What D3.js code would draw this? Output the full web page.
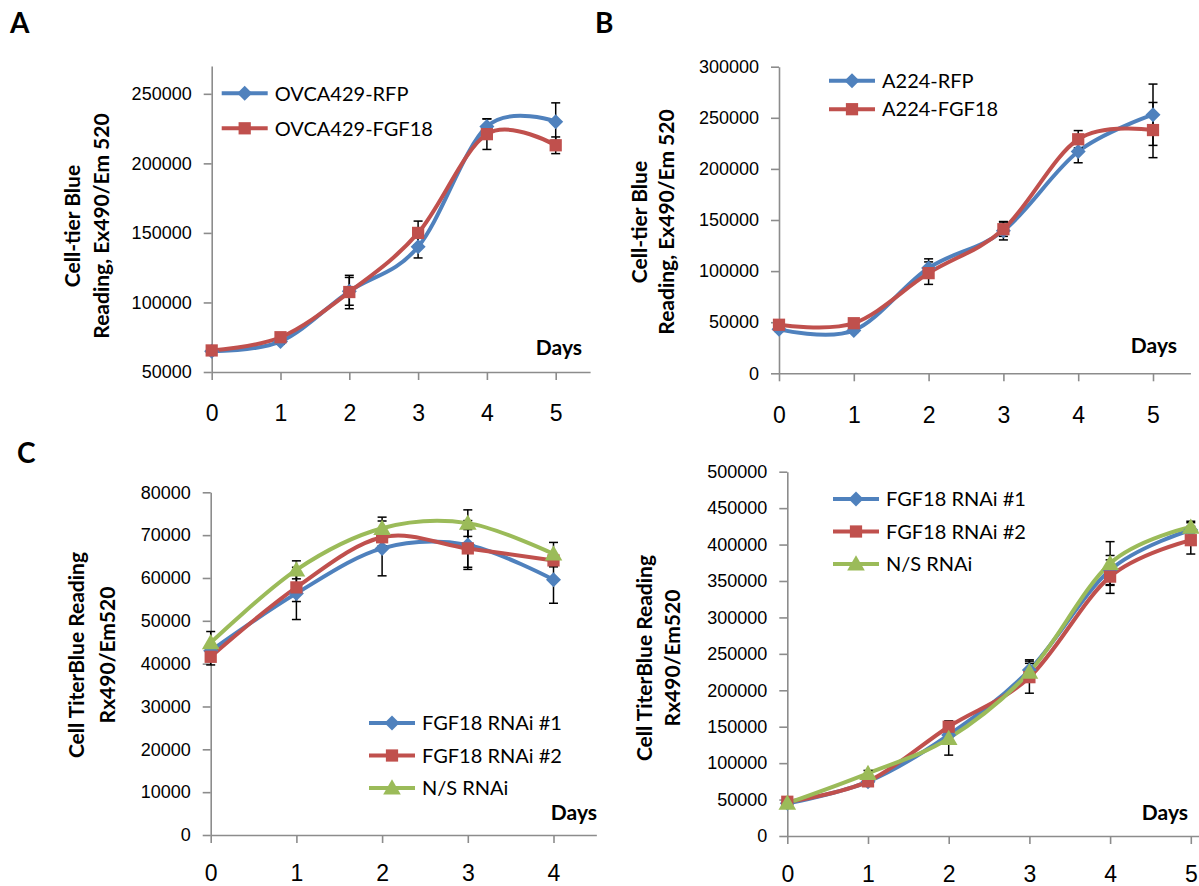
<!DOCTYPE html>
<html>
<head>
<meta charset="utf-8">
<script src="https://cdn.jsdelivr.net/npm/d3@7"></script>
<style>
  body { margin: 0; background: #fff; }
  svg { display: block; font-family: Lato, "Open Sans", sans-serif; }
</style>
</head>
<body>
<div id="chart"></div>
<script>
// ---- data ----
let daysAB = [0, 1, 2, 3, 4, 5];
let daysC1 = [0, 1, 2, 3, 4];
let daysC2 = [0, 1, 2, 3, 4, 5];

// panel A (OVCA429)
let ovcaRFP = [65000, 72000, 108000, 140000, 226500, 230000];
let ovcaRFPErr = [1500, 2000, 10000, 8000, 5500, 13500];
let ovcaFGF18 = [65500, 75000, 107500, 150000, 221000, 213000];
let ovcaFGF18Err = [1500, 2000, 12000, 8500, 11000, 6000];
let ticksA = [50000, 100000, 150000, 200000, 250000];

// panel B (A224)
let a224RFP = [43000, 42000, 103000, 139500, 217000, 253000];
let a224RFPErr = [2000, 2000, 9000, 9000, 11000, 30000];
let a224FGF18 = [47500, 49000, 98000, 141000, 229000, 238000];
let a224FGF18Err = [2000, 2000, 11000, 7000, 8500, 27000];
let ticksB = [0, 50000, 100000, 150000, 200000, 250000, 300000];

// panel C left
let c1Sh1 = [43000, 56400, 66900, 67700, 59600];
let c1Sh1Err = [1500, 6100, 6400, 5700, 5500];
let c1Sh2 = [41600, 57800, 69500, 66900, 64100];
let c1Sh2Err = [1900, 3300, 2000, 4400, 1500];
let c1NS = [44900, 61900, 71600, 72800, 65600];
let c1NSErr = [2600, 2100, 2600, 3100, 2700];
let ticksC1 = [0, 10000, 20000, 30000, 40000, 50000, 60000, 70000, 80000];

// panel C right
let c2Sh1 = [45000, 74600, 138600, 227800, 365000, 420000];
let c2Sh1Err = [3000, 5000, 10000, 14000, 20000, 10000];
let c2Sh2 = [47000, 75000, 150000, 218000, 356000, 406000];
let c2Sh2Err = [3000, 4000, 8000, 22000, 23000, 19000];
let c2NS = [45000, 86000, 134000, 225000, 374000, 424000];
let c2NSErr = [3000, 4000, 23000, 12000, 30000, 8000];
let ticksC2 = [0, 50000, 100000, 150000, 200000, 250000, 300000, 350000, 400000, 450000, 500000];

// Excel 2007 palette
let blue = '#4F81BD';
let red = '#C0504D';
let green = '#9BBB59';

let width = 1199;
let height = 886;

let svg = d3.select('#chart')
    .append('svg')
    .attr('width', width)
    .attr('height', height);

svg.append('rect')
    .attr('width', width)
    .attr('height', height)
    .attr('fill', '#fff');

// panel layouts (positions only), series built from the arrays above
let panels = [
    {
        letter: 'A', letterXY: [10, 33],
        x0: 211.7, step: 68.8, xMax: 5.5, days: daysAB,
        yTop: 66, yBot: 372, yDomain: [50000, 270000], yTicks: ticksA,
        title: ['Cell-tier Blue', 'Reading, Ex490/Em 520'], titleX: [73, 102], titleY: 226,
        daysXY: [582, 355], labelPad: 25,
        legend: { x: 221.7, y: 93.3, dy: 35 },
        series: [
            { name: 'OVCA429-RFP', values: ovcaRFP, err: ovcaRFPErr, color: blue, shape: 'diamond' },
            { name: 'OVCA429-FGF18', values: ovcaFGF18, err: ovcaFGF18Err, color: red, shape: 'square' }
        ]
    },
    {
        letter: 'B', letterXY: [595, 33],
        x0: 779, step: 74.8, xMax: 5.5, days: daysAB,
        yTop: 66.7, yBot: 373.3, yDomain: [0, 300000], yTicks: ticksB,
        title: ['Cell-tier Blue', 'Reading, Ex490/Em 520'], titleX: [640, 667], titleY: 222,
        daysXY: [1177, 353], labelPad: 25,
        legend: { x: 829, y: 80.7, dy: 28.5 },
        series: [
            { name: 'A224-RFP', values: a224RFP, err: a224RFPErr, color: blue, shape: 'diamond' },
            { name: 'A224-FGF18', values: a224FGF18, err: a224FGF18Err, color: red, shape: 'square' }
        ]
    },
    {
        letter: 'C', letterXY: [17, 463],
        x0: 210.7, step: 85.7, xMax: 4.5, days: daysC1,
        yTop: 492.3, yBot: 835, yDomain: [0, 80000], yTicks: ticksC1,
        title: ['Cell TiterBlue Reading', 'Rx490/Em520'], titleX: [77, 108], titleY: 655,
        daysXY: [597, 820], labelPad: 22,
        legend: { x: 369, y: 723, dy: 32.5 },
        series: [
            { name: 'FGF18 RNAi #1', values: c1Sh1, err: c1Sh1Err, color: blue, shape: 'diamond' },
            { name: 'FGF18 RNAi #2', values: c1Sh2, err: c1Sh2Err, color: red, shape: 'square' },
            { name: 'N/S RNAi', values: c1NS, err: c1NSErr, color: green, shape: 'triangle' }
        ]
    },
    {
        letter: '', letterXY: [0, 0],
        x0: 787.3, step: 80.7, xMax: 5.5, days: daysC2,
        yTop: 471.7, yBot: 836, yDomain: [0, 500000], yTicks: ticksC2,
        title: ['Cell TiterBlue Reading', 'Rx490/Em520'], titleX: [645, 673], titleY: 658,
        daysXY: [1188, 820], labelPad: 22,
        legend: { x: 833, y: 499, dy: 32.5 },
        series: [
            { name: 'FGF18 RNAi #1', values: c2Sh1, err: c2Sh1Err, color: blue, shape: 'diamond' },
            { name: 'FGF18 RNAi #2', values: c2Sh2, err: c2Sh2Err, color: red, shape: 'square' },
            { name: 'N/S RNAi', values: c2NS, err: c2NSErr, color: green, shape: 'triangle' }
        ]
    }
];

// marker shapes like Excel's
let markerPath = (shape) => {
    if (shape === 'diamond') return 'M0,-7.5L7.5,0L0,7.5L-7.5,0Z';
    if (shape === 'square') return d3.symbol(d3.symbolSquare, 150)();
    return d3.symbol(d3.symbolTriangle, 135)();
};

panels.forEach((p) => {
    let g = svg.append('g');

    let x = d3.scaleLinear()
        .domain([0, p.xMax])
        .range([p.x0, p.x0 + p.step * p.xMax]);
    let y = d3.scaleLinear()
        .domain(p.yDomain)
        .range([p.yBot, p.yTop]);

    // y axis
    let yAxis = g.append('g')
        .attr('transform', `translate(${p.x0},0)`)
        .call(d3.axisLeft(y).tickValues(p.yTicks).tickFormat(d3.format('d')).tickSize(8).tickSizeOuter(0).tickPadding(12));
    yAxis.selectAll('text').style('font-size', '18px').attr('fill', '#000');

    // x axis
    let xAxis = g.append('g')
        .attr('transform', `translate(0,${p.yBot})`)
        .call(d3.axisBottom(x).tickValues(p.days).tickFormat(d3.format('d')).tickSize(8).tickSizeOuter(0).tickPadding(p.labelPad));
    xAxis.selectAll('text').style('font-size', '23px').attr('fill', '#000');

    g.selectAll('.domain, .tick line')
        .attr('stroke', '#8c8c8c')
        .attr('stroke-width', 1.6);

    // y title, two bold lines rotated
    p.title.forEach((t, i) => {
        g.append('text')
            .text(t)
            .attr('transform', `translate(${p.titleX[i]},${p.titleY}) rotate(-90)`)
            .attr('text-anchor', 'middle')
            .attr('dy', '0.35em')
            .style('font-size', '21px')
            .style('font-weight', 'bold')
            .attr('fill', '#000');
    });

    g.append('text')
        .text('Days')
        .attr('x', p.daysXY[0])
        .attr('y', p.daysXY[1])
        .attr('text-anchor', 'end')
        .style('font-size', '21px')
        .style('font-weight', 'bold')
        .attr('fill', '#000');

    if (p.letter) {
        g.append('text')
            .text(p.letter)
            .attr('x', p.letterXY[0])
            .attr('y', p.letterXY[1])
            .style('font-size', '28px')
            .style('font-weight', 'bold')
            .attr('fill', '#000');
    }

    let line = d3.line()
        .x((d, i) => x(p.days[i]))
        .y(d => y(d))
        .curve(d3.curveCardinal.tension(0));

    // lines + error bars per series
    p.series.forEach((s) => {
        g.append('path')
            .attr('d', line(s.values))
            .attr('fill', 'none')
            .attr('stroke', s.color)
            .attr('stroke-width', 4)
            .attr('stroke-linejoin', 'round');

        let eb = g.append('g').attr('stroke', '#000').attr('stroke-width', 1.5);
        s.values.forEach((v, i) => {
            let cx = x(p.days[i]);
            let top = y(v + s.err[i]);
            let bot = y(v - s.err[i]);
            eb.append('line').attr('x1', cx).attr('x2', cx).attr('y1', top).attr('y2', bot);
            eb.append('line').attr('x1', cx - 4.5).attr('x2', cx + 4.5).attr('y1', top).attr('y2', top);
            eb.append('line').attr('x1', cx - 4.5).attr('x2', cx + 4.5).attr('y1', bot).attr('y2', bot);
        });
    });

    // markers on top
    p.series.forEach((s) => {
        g.selectAll(null)
            .data(s.values)
            .enter()
            .append('path')
            .attr('d', markerPath(s.shape))
            .attr('transform', (d, i) => `translate(${x(p.days[i])},${y(d) + (s.shape === 'triangle' ? 1.5 : 0)})`)
            .attr('fill', s.color);
    });

    // legend
    p.series.forEach((s, i) => {
        let ly = p.legend.y + i * p.legend.dy;
        g.append('line')
            .attr('x1', p.legend.x)
            .attr('x2', p.legend.x + 46)
            .attr('y1', ly)
            .attr('y2', ly)
            .attr('stroke', s.color)
            .attr('stroke-width', 4);
        g.append('path')
            .attr('d', markerPath(s.shape))
            .attr('transform', `translate(${p.legend.x + 23},${ly + (s.shape === 'triangle' ? 1.5 : 0)})`)
            .attr('fill', s.color);
        g.append('text')
            .text(s.name)
            .attr('x', p.legend.x + 53)
            .attr('y', ly)
            .attr('dy', '0.36em')
            .style('font-size', '20px')
            .attr('fill', '#000');
    });
});
</script>
</body>
</html>
